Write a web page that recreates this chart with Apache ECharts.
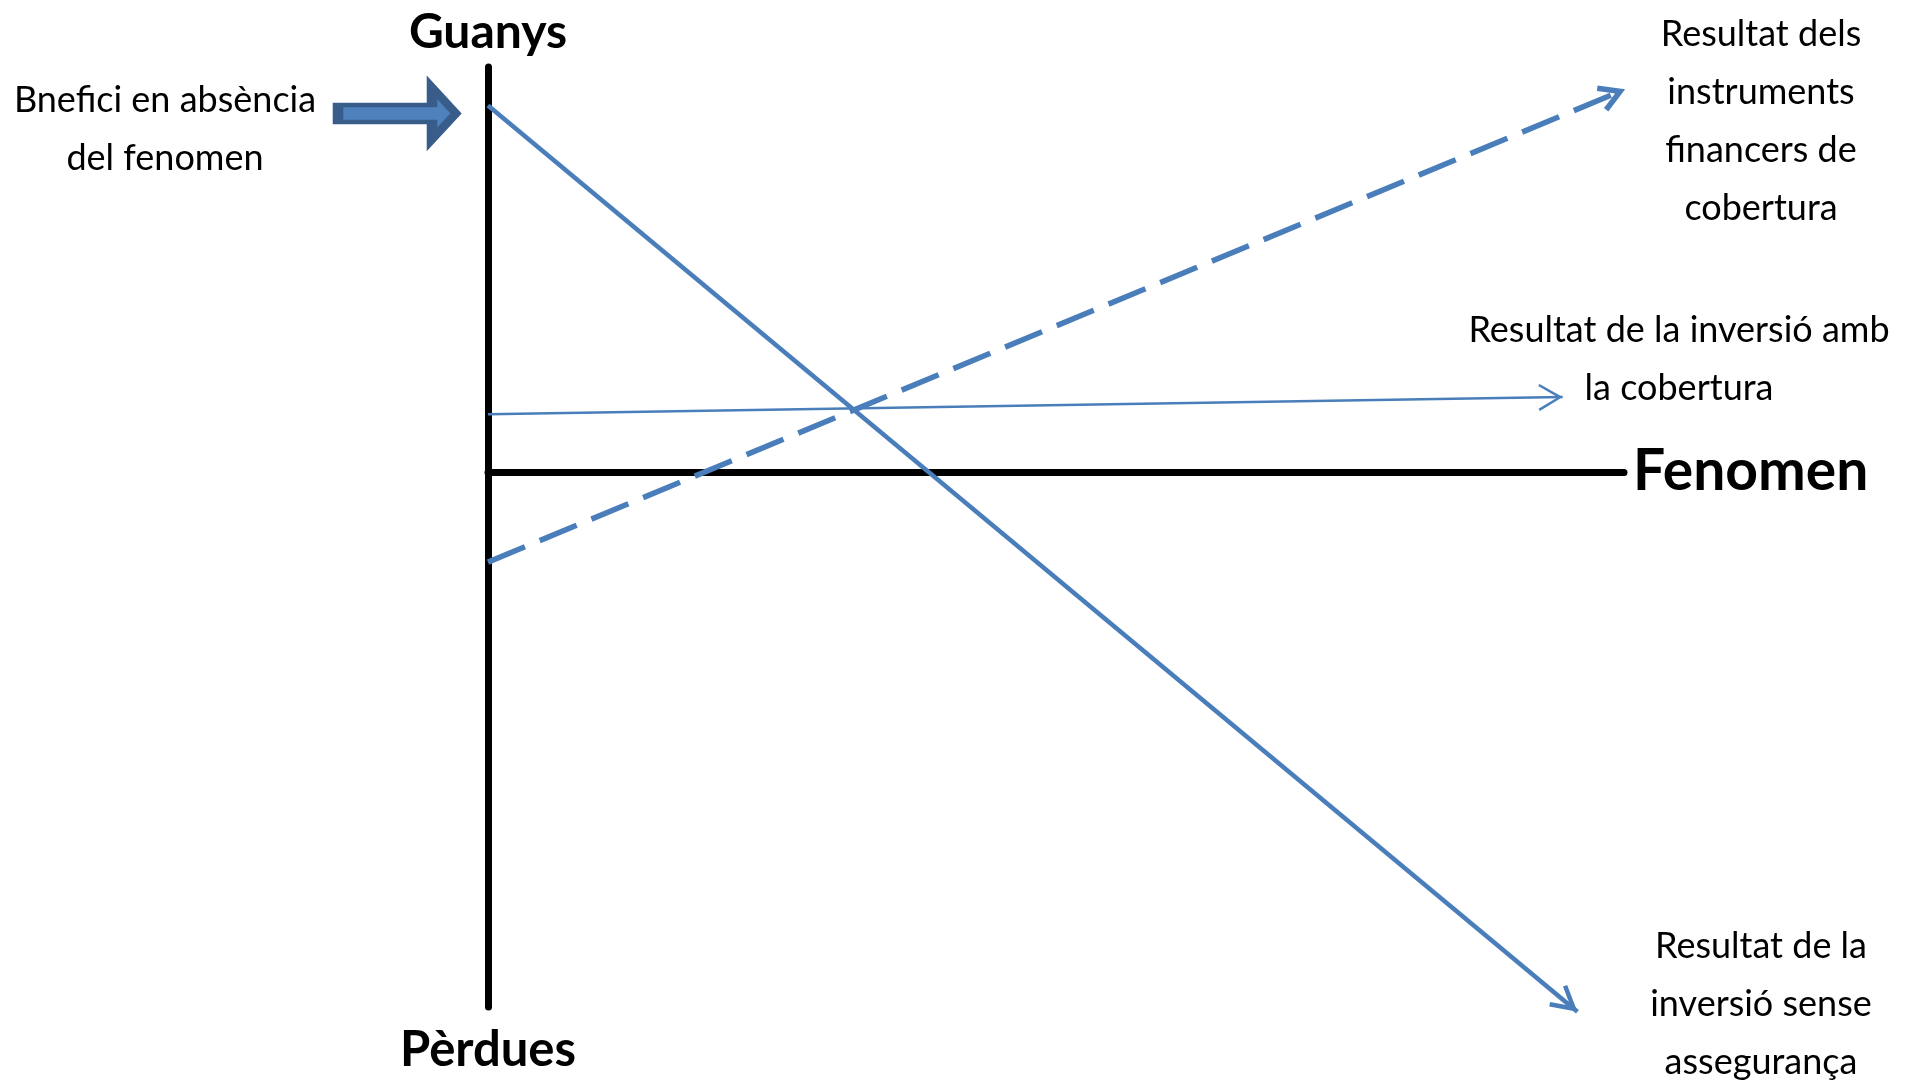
<!DOCTYPE html>
<html>
<head>
  <meta charset="utf-8">
  <script type="text/javascript" src="https://cdn.jsdelivr.net/npm/echarts@6/dist/echarts.min.js"></script>
  <style>html, body { margin: 0; padding: 0; background: #fff; }</style>
</head>
<body>
<div id="main" style="width: 1914px; height: 1087px"></div>
<script>
  // axis ranges: x = fenomen, y = guanys (+) / pèrdues (-)
  const xRange = [0, 100];
  const yRange = [-52.84, 40];

  // start / end point of every arrow, [fenomen, resultat]
  const unhedged = [[0, 36.2], [95.9, -53.3]];   // inversió sense assegurança
  const hedge = [[0, -8.9], [100.1, 37.8]];      // instruments financers de cobertura
  const hedged = [[0, 5.7], [94.6, 7.4]];        // inversió amb la cobertura

  // benefit with no phenomenon = where the unhedged line starts on the y axis
  const benefit = unhedged[0][1];

  const axisNames = ['Guanys', 'Pèrdues', 'Fenomen'];
  const noteTexts = [
    'Bnefici en absència\ndel fenomen',
    'Resultat dels\ninstruments\nfinancers de\ncobertura',
    'Resultat de la inversió amb\nla cobertura',
    'Resultat de la\ninversió sense\nassegurança'
  ];
  // where the notes sit on the page (text centre, px)
  const noteAnchors = [[165, 129], [1761, 121], [1679, 359], [1761, 1004]];

  const blue = '#4a7ebb';
  const font = 'Lato';

  // open arrow head pointing up, tip in the centre of its box
  function chevron(half, len, t) {
    const l = Math.hypot(half, len);
    const ox = t * len / l, oy = t * half / l;
    const ext = len + oy;
    const f = v => v.toFixed(2);
    const d = 'M' + f(half) + ',0 L' + f(2 * half) + ',' + f(len) +
      ' L' + f(2 * half - ox) + ',' + f(ext) +
      ' L' + f(half) + ',' + f(t * l / half) +
      ' L' + f(ox) + ',' + f(ext) + ' L0,' + f(len) + ' Z' +
      ' M' + f(half) + ',' + f(-ext) + ' L' + f(half + 0.01) + ',' + f(-ext) + ' Z';
    return { symbol: 'path://' + d, size: [2 * half, 2 * ext] };
  }

  function arrow(coords, width, type, head) {
    return {
      type: 'lines',
      coordinateSystem: 'cartesian2d',
      xAxisIndex: 0,
      yAxisIndex: 0,
      clip: false,
      silent: true,
      symbol: ['none', head.symbol],
      symbolSize: [0, head.size],
      itemStyle: { color: blue },
      lineStyle: { color: blue, width: width, type: type, opacity: 1, cap: 'butt', curveness: 0 },
      data: [{ coords: coords }]
    };
  }

  const myChart = echarts.init(document.getElementById('main'));

  const nameStyle = size => ({
    fontFamily: font, fontWeight: 'bold', fontSize: size, color: '#000',
    align: 'center', verticalAlign: 'middle'
  });

  myChart.setOption({
    animation: false,
    backgroundColor: '#fff',
    grid: { left: 488, right: 290, top: 67, bottom: 80, containLabel: false, outerBoundsMode: 'none' },
    xAxis: {
      type: 'value', min: xRange[0], max: xRange[1],
      axisLine: { show: true, onZero: true, lineStyle: { color: '#000', width: 7 } },
      axisTick: { show: false }, axisLabel: { show: false }, splitLine: { show: false },
      name: axisNames[2], nameLocation: 'end', nameGap: 9,
      nameTextStyle: Object.assign(nameStyle(57), { align: 'left', padding: [12, 0, 0, 0] })
    },
    yAxis: [{
      type: 'value', min: yRange[0], max: yRange[1], position: 'left',
      axisLine: { show: true, onZero: false, lineStyle: { color: '#000', width: 7 } },
      axisTick: { show: false }, axisLabel: { show: false }, splitLine: { show: false },
      name: axisNames[0], nameLocation: 'end', nameGap: 34, nameTextStyle: nameStyle(48)
    }, {
      type: 'value', min: yRange[0], max: yRange[1], position: 'left',
      axisLine: { show: false }, axisTick: { show: false }, axisLabel: { show: false }, splitLine: { show: false },
      name: axisNames[1], nameLocation: 'start', nameGap: 43, nameTextStyle: nameStyle(49)
    }],
    series: [
      arrow(unhedged, 4.5, 'solid', chevron(14, 25, 4.5)),
      arrow(hedge, 5.5, [40, 16], chevron(14, 24, 5.5)),
      arrow(hedged, 2.5, 'solid', chevron(13.5, 23, 2.5)),
      {
        // block arrow pointing at the benefit on the y axis
        type: 'scatter',
        clip: false,
        silent: true,
        data: [[0, benefit]],
        symbol: 'path://M0,17.5 L94,17.5 L94,0 L118,26 L94,52 L94,34.5 L0,34.5 Z',
        symbolSize: [118, 52],
        symbolOffset: [-91, 8],
        itemStyle: { color: '#4f81bd', borderColor: '#385d8a', borderWidth: 7, opacity: 1 }
      }
    ],
    graphic: noteTexts.map((t, i) => ({
      type: 'text',
      x: noteAnchors[i][0],
      y: noteAnchors[i][1],
      silent: true,
      style: {
        text: t, fontFamily: font, fontSize: 36, lineHeight: 58, fill: '#000',
        align: 'center', verticalAlign: 'middle'
      }
    }))
  });
</script>
</body>
</html>
